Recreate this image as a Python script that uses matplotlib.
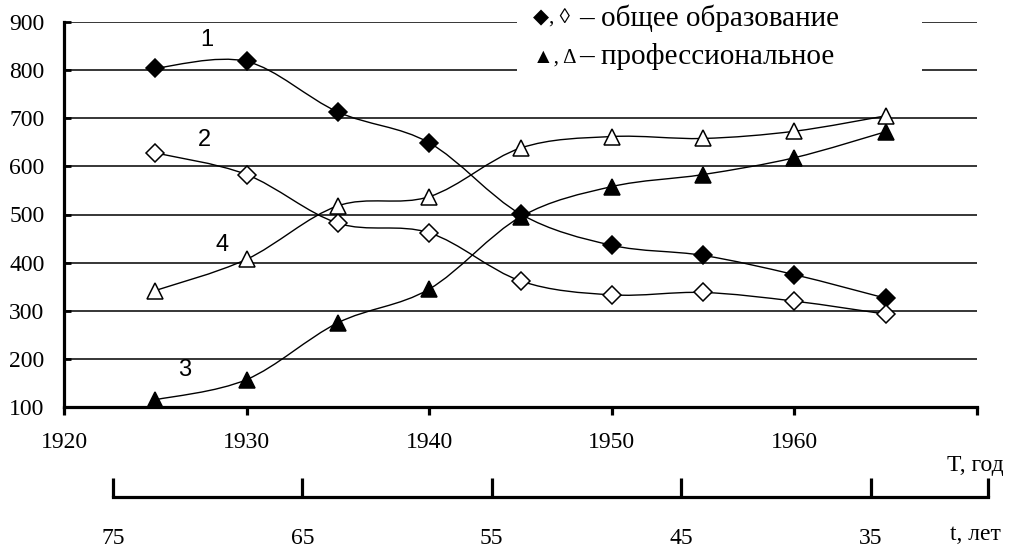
import matplotlib
matplotlib.use('Agg')
import matplotlib.pyplot as plt
from matplotlib.path import Path
from matplotlib.patches import PathPatch, Rectangle

years = [1925, 1930, 1935, 1940, 1945, 1950, 1955, 1960, 1965]
general_1 = [804, 818, 713, 649, 501, 436, 415, 375, 326]      # 1, filled diamond
general_2 = [628, 583, 482, 462, 362, 333, 338, 320, 293]      # 2, open diamond
prof_3 = [115, 157, 275, 345, 495, 558, 583, 618, 672]         # 3, filled triangle
prof_4 = [342, 407, 518, 537, 638, 662, 658, 673, 705]         # 4, open triangle

year_ticks = [1920, 1930, 1940, 1950, 1960, 1970]
year_labels = ['1920', '1930', '1940', '1950', '1960', '']
y_ticks = [100, 200, 300, 400, 500, 600, 700, 800, 900]
age_ticks = [75, 65, 55, 45, 35, 28.8]
age_labels = ['75', '65', '55', '45', '35', '']

serif = ['Liberation Serif', 'DejaVu Serif', 'DejaVu Sans']
sans = ['Liberation Sans', 'DejaVu Sans']


def smooth_path(xs, ys):
    # bezier curve through the points, like a spreadsheet "smoothed line"
    pts = list(zip(xs, ys))
    n = len(pts)
    verts = [pts[0]]
    codes = [Path.MOVETO]
    for i in range(n - 1):
        p0 = pts[max(i - 1, 0)]
        p1 = pts[i]
        p2 = pts[i + 1]
        p3 = pts[min(i + 2, n - 1)]
        c1 = (p1[0] + (p2[0] - p0[0]) / 6, p1[1] + (p2[1] - p0[1]) / 6)
        c2 = (p2[0] - (p3[0] - p1[0]) / 6, p2[1] - (p3[1] - p1[1]) / 6)
        verts += [c1, c2, p2]
        codes += [Path.CURVE4] * 3
    return Path(verts, codes)


fig = plt.figure(figsize=(10.1, 5.49), dpi=100)
ax = fig.add_axes([64 / 1010, 1 - 407 / 549, 913 / 1010, 385 / 549])

ax.set_xlim(1920, 1970)
ax.set_ylim(100, 900)
ax.set_xticks(year_ticks)
ax.set_xticklabels(year_labels, family=serif, fontsize=17)
ax.set_yticks(y_ticks)
ax.set_yticklabels([str(v) for v in y_ticks], family=serif, fontsize=17)

for s in ['top', 'right']:
    ax.spines[s].set_visible(False)
for s in ['left', 'bottom']:
    ax.spines[s].set_linewidth(2.3)
ax.tick_params(axis='x', direction='out', length=6, width=2.3, pad=12)
ax.tick_params(axis='y', direction='in', length=5, width=2.0, pad=14)
ax.set_axisbelow(True)
ax.yaxis.grid(True, color='black', linewidth=1.1)

# white box behind the legend text
ax.add_patch(Rectangle((0.496, 0.771), 0.444, 0.3, transform=ax.transAxes,
                       facecolor='white', edgecolor='none', zorder=1, clip_on=False))

for vals, marker, face in [(general_1, 'D', 'black'), (general_2, 'D', 'white'),
                           (prof_3, '^', 'black'), (prof_4, '^', 'white')]:
    ax.add_patch(PathPatch(smooth_path(years, vals), facecolor='none',
                           edgecolor='black', linewidth=1.0, zorder=2))
    ax.plot(years, vals, linestyle='none', marker=marker, markersize=9.5 if marker == 'D' else 11.5,
            markerfacecolor=face, markeredgecolor='black', markeredgewidth=1.1, zorder=3,
            clip_on=False)

ax.text(1927.8, 862, '1', family=sans, fontsize=17, ha='center', va='center')
ax.text(1927.7, 655, '2', family=sans, fontsize=17, ha='center', va='center')
ax.text(1926.6, 177, '3', family=sans, fontsize=17, ha='center', va='center')
ax.text(1928.65, 437, '4', family=sans, fontsize=17, ha='center', va='center')

# legend written as text, symbols a bit smaller than the words
fig.text(533 / 1010, 1 - 19 / 549, '\u25c6, \u25ca', family=serif,
         fontsize=15, ha='left', va='center')
fig.text(579 / 1010, 1 - 18 / 549, '\u2013 общее образование', family=serif,
         fontsize=21, ha='left', va='center')
fig.text(533 / 1010, 1 - 58 / 549, '\u25b2, \u0394', family=serif,
         fontsize=15, ha='left', va='center')
fig.text(579 / 1010, 1 - 57 / 549, '\u2013 профессиональное', family=serif,
         fontsize=21, ha='left', va='center')

fig.text(975 / 1010, 1 - 465 / 549, 'T, год', family=serif, fontsize=17, ha='center', va='center')
fig.text(975 / 1010, 1 - 535 / 549, 't, лет', family=serif, fontsize=17, ha='center', va='center')

# second scale: age in years
ax2 = fig.add_axes([113 / 1010, 1 - 497 / 549, 875 / 1010, 0.001])
ax2.set_xlim(75, 28.8)
ax2.set_ylim(0, 1)
ax2.set_yticks([])
ax2.set_xticks(age_ticks)
ax2.set_xticklabels(age_labels, family=serif, fontsize=17)
for s in ['top', 'right', 'left']:
    ax2.spines[s].set_visible(False)
ax2.spines['bottom'].set_linewidth(2.3)
ax2.tick_params(axis='x', direction='in', length=14, width=2.3, pad=22)
ax2.patch.set_visible(False)

fig.savefig('out.png', dpi=100)
